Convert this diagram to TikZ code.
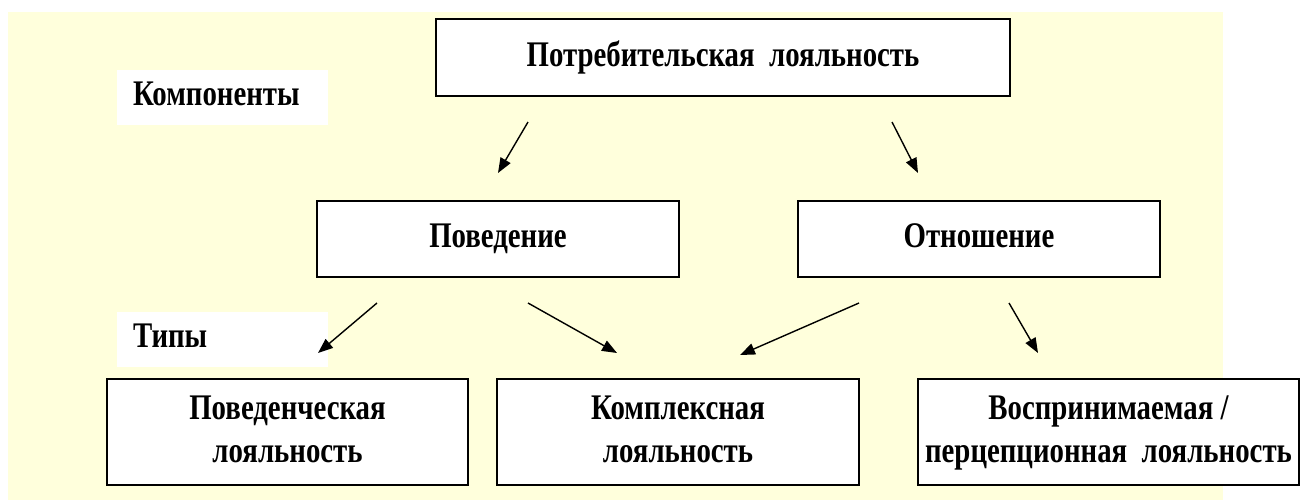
\documentclass[tikz,border=0pt]{standalone}
\usepackage{fontspec}
\setmainfont{Liberation Serif}
\usepackage{graphicx}
\usetikzlibrary{arrows.meta,calc}
\definecolor{fonzheltyj}{HTML}{FFFFDC}
\newcommand{\uzk}[1]{\scalebox{0.8}[1]{\strut #1}}

\begin{document}
\begin{tikzpicture}[x=0.02cm, y=-0.02cm,
			>={Triangle[length=8.5pt,width=6.5pt]},
			blok/.style={draw=black, fill=white, line width=1pt, outer sep=0pt, align=center,
				font=\fontsize{20.5}{24.4}\selectfont\bfseries},
			metka/.style={fill=white, outer sep=0pt, anchor=north west, align=left, inner xsep=16*0.02cm,
				text width=179*0.02cm, minimum height=53*0.02cm,
				font=\fontsize{20.5}{24.4}\selectfont\bfseries},
			strelka/.style={->, line width=0.8pt}]
			\def\px{0.02cm}
			\useasboundingbox (0,0) rectangle (1301,501);
			\fill[fonzheltyj] (8,12) rectangle (1223,500);
			
			%% подписи уровней
			\node[metka] (komp) at (117,70) {\uzk{Компоненты}};
			\node[metka] (tipy) at (117,312) {\uzk{Типы}};
			
			%% блоки
			\node[blok, minimum width=574*\px, minimum height=77*\px] (potr) at (723,57.5) {\uzk{Потребительская\ \ лояльность}};
			\node[blok, minimum width=362*\px, minimum height=76*\px] (pov) at (498,239) {\uzk{Поведение}};
			\node[blok, minimum width=362*\px, minimum height=76*\px] (otn) at (979,239) {\uzk{Отношение}};
			\node[blok, minimum width=361*\px, minimum height=106*\px] (povl) at (287.5,432) {\uzk{Поведенческая}\\\uzk{лояльность}};
			\node[blok, minimum width=362*\px, minimum height=106*\px] (kompl) at (678,432) {\uzk{Комплексная}\\\uzk{лояльность}};
			\node[blok, minimum width=381*\px, minimum height=106*\px] (vospr) at (1108.5,432) {\uzk{Воспринимаемая /}\\\uzk{перцепционная\ \ лояльность}};
			
			%% концы стрелок, отступ от блоков
			\coordinate (s1) at ($(potr.south west)+(92,26)$);
			\coordinate (t1) at ($(pov.north west)+(181,-28)$);
			\coordinate (s2) at ($(potr.south west)+(456,26)$);
			\coordinate (t2) at ($(otn.north west)+(120,-28)$);
			\coordinate (s3) at ($(pov.south west)+(60,26)$);
			\coordinate (t3) at ($(povl.north west)+(211,-26)$);
			\coordinate (s4) at ($(pov.south west)+(211,26)$);
			\coordinate (t4) at ($(kompl.north west)+(120,-26)$);
			\coordinate (s5) at ($(otn.south west)+(61,26)$);
			\coordinate (t5) at ($(kompl.north west)+(243,-24)$);
			\coordinate (s6) at ($(otn.south west)+(211,26)$);
			\coordinate (t6) at ($(vospr.north west)+(120,-26)$);
			\foreach \a/\b in {s1/t1, s2/t2, s3/t3, s4/t4, s5/t5, s6/t6}
				\draw[strelka] (\a) -- (\b);
		\end{tikzpicture}
\end{document}
